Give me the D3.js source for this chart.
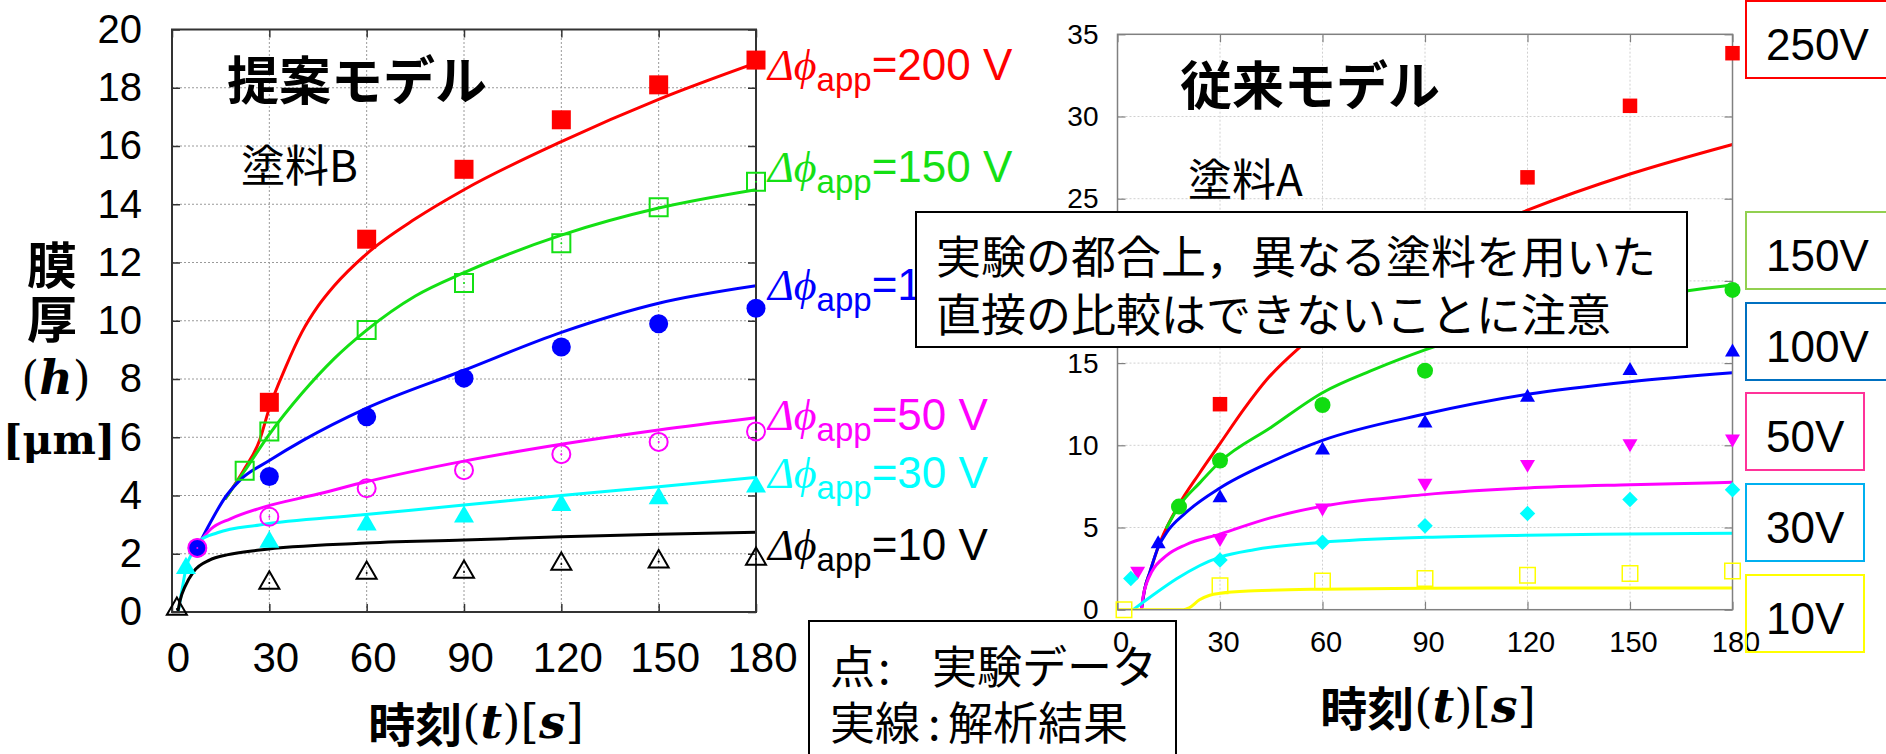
<!DOCTYPE html>
<html><head><meta charset="utf-8">
<script src="https://cdn.jsdelivr.net/npm/d3@7"></script>
<style>body{margin:0;background:#fff;} svg{display:block;}</style>
</head><body>
<svg id="c" width="1886" height="754"></svg>
<script>
// ================= DATA =================
const timeTicks = [0, 30, 60, 90, 120, 150, 180];
const leftYTicks = [0, 2, 4, 6, 8, 10, 12, 14, 16, 18, 20];
const rightYTicks = [0, 5, 10, 15, 20, 25, 30, 35];

// ---- Left chart (提案モデル, 塗料B): experimental points ----
const L200_t = [30, 60, 90, 120, 150, 180];
const L200_h = [7.2, 12.8, 15.2, 16.9, 18.1, 18.95];
const L150_t = [22.4, 30, 60, 90, 120, 150, 180];
const L150_h = [4.85, 6.2, 9.68, 11.3, 12.66, 13.9, 14.77];
const L100_t = [7.8, 30, 60, 90, 120, 150, 180];
const L100_h = [2.2, 4.65, 6.7, 8.03, 9.1, 9.9, 10.43];
const L50_t = [7.8, 30, 60, 90, 120, 150, 180];
const L50_h = [2.2, 3.27, 4.25, 4.87, 5.42, 5.84, 6.2];
const L30_t = [4.3, 30, 60, 90, 120, 150, 180];
const L30_h = [1.5, 2.4, 3.0, 3.27, 3.67, 3.9, 4.3];
const L10_t = [1.5, 30, 60, 90, 120, 150, 180];
const L10_h = [0.1, 1.0, 1.34, 1.37, 1.65, 1.73, 1.82];

// ---- Left chart: analysis curves [t, h] ----
const L200_curve = [[16.5,3.9],[22,4.85],[27,5.9],[30,7.0],[35,8.4],[40,9.6],[45,10.5],[50,11.2],[60,12.3],[75,13.5],[90,14.5],[120,16.15],[150,17.6],[180,18.85]];
const L150_curve = [[16.5,3.9],[22.4,4.85],[30,6.1],[40,7.5],[50,8.7],[60,9.68],[75,10.85],[90,11.65],[120,12.94],[150,13.87],[180,14.5]];
const L100_curve = [[7.8,2.2],[11,2.9],[16.8,4.0],[21,4.53],[30,5.2],[40.5,5.9],[60,7.0],[90,8.3],[120,9.6],[150,10.6],[180,11.2]];
const L50_curve  = [[7.8,2.3],[12,2.85],[18,3.2],[27,3.56],[45,4.05],[58,4.42],[90,5.18],[120,5.76],[150,6.25],[180,6.67]];
const L30_curve  = [[1.9,0],[3,0.7],[4.3,1.5],[6.6,2.1],[8.6,2.45],[14,2.72],[27,2.99],[58,3.33],[90,3.67],[120,4.0],[150,4.3],[180,4.62]];
const L10_curve  = [[1.8,0],[2.5,0.4],[4,0.87],[6.6,1.38],[11.7,1.79],[16.9,1.96],[27,2.13],[58,2.36],[90,2.47],[120,2.58],[150,2.67],[180,2.74]];

const leftVoltLabels = ["200 V", "150 V", "100 V", "50 V", "30 V", "10 V"];
const leftLabelAt = [18.8, 15.3, 11.25, 6.8, 4.8, 2.35];

// ---- Right chart (従来モデル, 塗料A): experimental points ----
const R250_t = [30, 120, 150, 180];
const R250_h = [12.5, 26.3, 30.65, 33.85];
const R150_t = [18, 30, 60, 90, 180];
const R150_h = [6.27, 9.07, 12.45, 14.54, 19.45];
const R100_t = [11.9, 30, 60, 90, 120, 150, 180];
const R100_h = [4.0, 6.8, 9.7, 11.34, 12.92, 14.54, 15.66];
const R50_t = [5.9, 30, 60, 90, 120, 150, 180];
const R50_h = [2.35, 4.34, 6.2, 7.7, 8.85, 10.1, 10.4];
const R30_t = [3.9, 30, 60, 90, 120, 150, 180];
const R30_h = [1.9, 3.02, 4.1, 5.1, 5.85, 6.7, 7.3];
const R10_t = [1.9, 30, 60, 90, 120, 150, 180];
const R10_h = [0, 1.46, 1.75, 1.9, 2.1, 2.2, 2.35];

// ---- Right chart: analysis curves [t, h] ----
const R250_curve = [[7,0],[8,1.3],[9.5,2.3],[11.9,3.8],[14.4,5.0],[18,6.4],[24,8.3],[30,10.1],[37,12.2],[43.7,14.0],[53,15.9],[60,17.1],[75,19.5],[90,21.4],[105,23.0],[120,24.3],[150,26.5],[180,28.3]];
const R150_curve = [[14.4,5.0],[18,6.3],[24,7.7],[30,9.0],[45,11.1],[60,13.2],[75,14.6],[90,15.8],[120,17.7],[150,18.9],[180,19.75]];
const R100_curve = [[7,0],[8,1.3],[9.5,2.3],[11.9,3.8],[14.4,4.7],[20,5.9],[30,7.4],[45,9.0],[60,10.3],[90,11.9],[120,13.1],[150,13.87],[180,14.42]];
const R50_curve  = [[7,0],[7.5,0.8],[8.5,1.6],[10,2.3],[14.4,3.3],[20,3.95],[30,4.6],[45,5.6],[60,6.3],[90,7.0],[120,7.4],[150,7.6],[180,7.75]];
const R30_curve  = [[4.6,0],[30,3.2],[40,3.65],[60,4.1],[90,4.4],[120,4.53],[150,4.6],[180,4.65]];
const R10_curve  = [[0,0],[19.3,0],[21,0.12],[24,0.6],[27,0.88],[30,1.0],[40,1.15],[60,1.25],[90,1.3],[120,1.32],[150,1.32],[180,1.32]];

const rightVoltLabels = ["250V", "150V", "100V", "50V", "30V", "10V"];

// ================= DRAWING =================
const SANS = "'Liberation Sans', Arial, Helvetica, sans-serif";
const CJK = "'Noto Sans CJK JP', 'Noto Sans CJK SC', sans-serif";
const SERIF = "'DejaVu Serif', 'Liberation Serif', serif";
const MATH = "'Liberation Serif', 'DejaVu Serif', serif";

const svg = d3.select("#c");
const zip = (ts, hs) => ts.map((t, i) => [t, hs[i]]);

function drawMarkers(g, x, y, pts, m) {
  const typeMap = {square: d3.symbolSquare, circle: d3.symbolCircle, triangle: d3.symbolTriangle, diamond: d3.symbolSquare, down: d3.symbolTriangle};
  const sym = d3.symbol().type(typeMap[m.shape]).size(m.size);
  const rot = m.shape === "diamond" ? 45 : (m.shape === "down" ? 180 : 0);
  g.selectAll(null).data(pts).join("path")
    .attr("d", sym)
    .attr("transform", d => `translate(${x(d[0])},${y(d[1])}) rotate(${rot})`)
    .attr("fill", m.filled ? m.color : "none")
    .attr("stroke", m.color)
    .attr("stroke-width", m.filled ? 0 : m.sw);
  if (!m.filled && m.dot) {
    g.selectAll(null).data(pts).join("circle")
      .attr("cx", d => x(d[0])).attr("cy", d => y(d[1])).attr("r", 1)
      .attr("fill", m.color);
  }
}

function drawChart(opt) {
  const g = svg.append("g");
  const x = d3.scaleLinear().domain([0, 180]).range([opt.x0, opt.x1]);
  const y = d3.scaleLinear().domain([0, opt.ymax]).range([opt.y0, opt.y1]);

  // grid
  const grid = g.append("g").attr("stroke", opt.gridColor).attr("stroke-width", 1).attr("stroke-dasharray", "2,2");
  grid.selectAll(null).data(timeTicks.slice(1, -1)).join("line")
    .attr("x1", d => x(d)).attr("x2", d => x(d)).attr("y1", opt.y0).attr("y2", opt.y1);
  grid.selectAll(null).data(opt.yTicks.slice(1, -1)).join("line")
    .attr("y1", d => y(d)).attr("y2", d => y(d)).attr("x1", opt.x0).attr("x2", opt.x1);

  // clip
  const cid = "clip" + opt.id;
  svg.append("clipPath").attr("id", cid).append("rect")
    .attr("x", opt.x0).attr("y", opt.y1).attr("width", opt.x1 - opt.x0).attr("height", opt.y0 - opt.y1);

  // curves
  const line = d3.line().x(d => x(d[0])).y(d => y(d[1])).curve(d3.curveMonotoneX);
  const cg = g.append("g").attr("clip-path", `url(#${cid})`);
  opt.series.forEach(s => {
    cg.append("path").datum(s.curve).attr("d", line)
      .attr("fill", "none").attr("stroke", s.color).attr("stroke-width", opt.lw)
      .attr("stroke-linejoin", "round").attr("stroke-linecap", "round");
  });

  // frame + axes
  const fontAxis = (sel, size) => sel.selectAll("text").attr("font-family", SANS).attr("font-size", size).attr("fill", "#000");
  const styleAx = sel => { sel.select(".domain").remove(); sel.selectAll("line").attr("stroke", opt.axisColor).attr("stroke-width", opt.tickW); };

  const axL = g.append("g").attr("transform", `translate(${opt.x0},0)`)
    .call(d3.axisLeft(y).tickValues(opt.yTicks).tickSize(-8).tickPadding(opt.yPad));
  styleAx(axL); fontAxis(axL, opt.yFont);
  const axR = g.append("g").attr("transform", `translate(${opt.x1},0)`)
    .call(d3.axisRight(y).tickValues(opt.yTicks).tickSize(-8).tickFormat(""));
  styleAx(axR);
  const axB = g.append("g").attr("transform", `translate(0,${opt.y0})`)
    .call(d3.axisBottom(x).tickValues(timeTicks).tickSize(-8).tickPadding(opt.xPad));
  styleAx(axB); fontAxis(axB, opt.xFont); axB.selectAll("text").attr("dx", opt.xdx);
  const axT = g.append("g").attr("transform", `translate(0,${opt.y1})`)
    .call(d3.axisTop(x).tickValues(timeTicks).tickSize(-8).tickFormat(""));
  styleAx(axT);

  g.append("rect").attr("x", opt.x0).attr("y", opt.y1).attr("width", opt.x1 - opt.x0).attr("height", opt.y0 - opt.y1)
    .attr("fill", "none").attr("stroke", opt.axisColor).attr("stroke-width", opt.frameW);

  // markers
  opt.series.forEach(s => drawMarkers(g, x, y, s.points, s.marker));
  return {g, x, y};
}

// ---------- LEFT CHART ----------
const LC = {red: "#ff0000", green: "#14e014", blue: "#0000ff", mag: "#ff00ff", cyan: "#00ffff", black: "#000000"};
const left = drawChart({
  id: "L", x0: 172, x1: 756, y0: 612, y1: 29.5, ymax: 20, yTicks: leftYTicks,
  gridColor: "#9a9a9a", axisColor: "#333", frameW: 2, tickW: 1.5, lw: 3,
  yPad: 30, xPad: 30, yFont: 40, xFont: 42, xdx: 6,
  series: [
    {color: LC.red,   curve: L200_curve, points: zip(L200_t, L200_h), marker: {shape: "square", size: 19*19, filled: true, color: LC.red}},
    {color: LC.green, curve: L150_curve, points: zip(L150_t, L150_h), marker: {shape: "square", size: 18*18, filled: false, color: LC.green, sw: 2, dot: true}},
    {color: LC.blue,  curve: L100_curve, points: zip(L100_t, L100_h), marker: {shape: "circle", size: Math.PI*9.5*9.5, filled: true, color: LC.blue}},
    {color: LC.mag,   curve: L50_curve,  points: zip(L50_t, L50_h),   marker: {shape: "circle", size: Math.PI*9*9, filled: false, color: LC.mag, sw: 2, dot: true}},
    {color: LC.cyan,  curve: L30_curve,  points: zip(L30_t, L30_h),   marker: {shape: "triangle", size: 0.433*20*20, filled: true, color: LC.cyan}},
    {color: LC.black, curve: L10_curve,  points: zip(L10_t, L10_h),   marker: {shape: "triangle", size: 0.433*20*20, filled: false, color: LC.black, sw: 2, dot: true}}
  ]
});

// voltage labels to the right of the left chart
const leftLabelColors = [LC.red, LC.green, LC.blue, LC.mag, LC.cyan, LC.black];
leftVoltLabels.forEach((lab, i) => {
  const t = svg.append("text").attr("x", 768).attr("y", left.y(leftLabelAt[i]) + 16)
    .attr("font-family", SANS).attr("font-size", 44).attr("fill", leftLabelColors[i]);
  t.append("tspan").attr("font-family", MATH).attr("font-style", "italic").text("Δϕ");
  t.append("tspan").attr("font-size", 33).attr("dy", 11).text("app");
  t.append("tspan").attr("dy", -11).text("=" + lab);
});

// left titles
svg.append("text").attr("x", 227).attr("y", 77).attr("dominant-baseline", "central")
  .attr("font-family", CJK).attr("font-weight", 700).attr("font-size", 52).text("提案モデル");
svg.append("text").attr("x", 241).attr("y", 163).attr("dominant-baseline", "central")
  .attr("font-family", CJK).attr("font-size", 44).text("塗料B");

// left y-axis title
svg.append("text").attr("x", 52).attr("y", 262).attr("text-anchor", "middle").attr("dominant-baseline", "central")
  .attr("font-family", CJK).attr("font-weight", 700).attr("font-size", 50).text("膜");
svg.append("text").attr("x", 52).attr("y", 316).attr("text-anchor", "middle").attr("dominant-baseline", "central")
  .attr("font-family", CJK).attr("font-weight", 700).attr("font-size", 50).text("厚");
{
  const t = svg.append("text").attr("x", 56).attr("y", 394).attr("text-anchor", "middle")
    .attr("font-family", SERIF).attr("font-size", 46);
  t.append("tspan").text("(");
  t.append("tspan").attr("font-weight", 700).attr("font-style", "italic").text("h");
  t.append("tspan").text(")");
}
svg.append("text").attr("x", 3).attr("y", 454).attr("text-anchor", "start")
  .attr("font-family", SERIF).attr("font-weight", 700).attr("font-size", 41).text("[μm]");

// x-axis title helper
function timeTitle(cx, cy) {
  const t = svg.append("text").attr("x", cx).attr("y", cy).attr("text-anchor", "middle").attr("dominant-baseline", "central")
    .attr("font-size", 47);
  t.append("tspan").attr("font-family", CJK).attr("font-weight", 700).text("時刻");
  t.append("tspan").attr("font-family", SERIF).text("(");
  t.append("tspan").attr("font-family", SERIF).attr("font-weight", 700).attr("font-style", "italic").text("t");
  t.append("tspan").attr("font-family", SERIF).text(")[");
  t.append("tspan").attr("font-family", SERIF).attr("font-weight", 700).attr("font-style", "italic").text("s");
  t.append("tspan").attr("font-family", SERIF).text("]");
}
timeTitle(476, 721);

// legend box 点/実線
svg.append("rect").attr("x", 809).attr("y", 621).attr("width", 367).attr("height", 150)
  .attr("fill", "#fff").attr("stroke", "#000").attr("stroke-width", 2);
{
  const t1 = svg.append("text").attr("y", 664).attr("dominant-baseline", "central").attr("font-family", CJK).attr("font-size", 45);
  t1.append("tspan").attr("x", 830).text("点");
  t1.append("tspan").attr("x", 878).text(":");
  t1.append("tspan").attr("x", 932).text("実験データ");
  const t2 = svg.append("text").attr("y", 720).attr("dominant-baseline", "central").attr("font-family", CJK).attr("font-size", 45);
  t2.append("tspan").attr("x", 830).text("実線");
  t2.append("tspan").attr("x", 928).text(":");
  t2.append("tspan").attr("x", 948).text("解析結果");
}

// ---------- RIGHT CHART ----------
const RC = {red: "#ff0000", green: "#11dd11", blue: "#0000ff", mag: "#ff00ff", cyan: "#00ffff", yellow: "#ffff00"};
const right = drawChart({
  id: "R", x0: 1117.5, x1: 1732.5, y0: 609.7, y1: 34.3, ymax: 35, yTicks: rightYTicks,
  gridColor: "#d0d0d0", axisColor: "#808080", frameW: 1.5, tickW: 1.2, lw: 3,
  yPad: 19, xPad: 22, yFont: 28, xFont: 29, xdx: 3,
  series: [
    {color: RC.red,    curve: R250_curve, points: zip(R250_t, R250_h), marker: {shape: "square", size: 14.5*14.5, filled: true, color: RC.red}},
    {color: RC.green,  curve: R150_curve, points: zip(R150_t, R150_h), marker: {shape: "circle", size: Math.PI*8*8, filled: true, color: RC.green}},
    {color: RC.blue,   curve: R100_curve, points: zip(R100_t, R100_h), marker: {shape: "triangle", size: 0.433*15*15, filled: true, color: RC.blue}},
    {color: RC.mag,    curve: R50_curve,  points: zip(R50_t, R50_h),   marker: {shape: "down", size: 0.433*15*15, filled: true, color: RC.mag}},
    {color: RC.cyan,   curve: R30_curve,  points: zip(R30_t, R30_h),   marker: {shape: "diamond", size: 11*11, filled: true, color: RC.cyan}},
    {color: RC.yellow, curve: R10_curve,  points: zip(R10_t, R10_h),   marker: {shape: "square", size: 15.5*15.5, filled: false, color: RC.yellow, sw: 1.5}}
  ]
});

svg.append("text").attr("x", 1180).attr("y", 82).attr("dominant-baseline", "central")
  .attr("font-family", CJK).attr("font-weight", 700).attr("font-size", 52).text("従来モデル");
svg.append("text").attr("x", 1188).attr("y", 177).attr("dominant-baseline", "central")
  .attr("font-family", CJK).attr("font-size", 44).text("塗料A");
timeTitle(1428, 705);

// right legend boxes
const rightBoxColors = ["#ff0000", "#92d050", "#0070c0", "#ff3399", "#00b0f0", "#ffff00"];
const rightBoxTop = [1, 212, 303, 393, 484, 575];
const rightBoxW = [160, 160, 160, 118, 118, 118];
rightVoltLabels.forEach((lab, i) => {
  svg.append("rect").attr("x", 1746).attr("y", rightBoxTop[i]).attr("width", rightBoxW[i]).attr("height", 77)
    .attr("fill", "none").attr("stroke", rightBoxColors[i]).attr("stroke-width", 2);
  svg.append("text").attr("x", 1766).attr("y", rightBoxTop[i] + 59)
    .attr("font-family", SANS).attr("font-size", 44).attr("fill", "#000").text(lab);
});

// annotation box
svg.append("rect").attr("x", 916).attr("y", 212).attr("width", 771).attr("height", 135)
  .attr("fill", "#fff").attr("stroke", "#000").attr("stroke-width", 2);
svg.append("text").attr("x", 936).attr("y", 254).attr("dominant-baseline", "central")
  .attr("font-family", CJK).attr("font-size", 45).text("実験の都合上，異なる塗料を用いた");
svg.append("text").attr("x", 936).attr("y", 312).attr("dominant-baseline", "central")
  .attr("font-family", CJK).attr("font-size", 45).text("直接の比較はできないことに注意");
</script>
</body></html>
